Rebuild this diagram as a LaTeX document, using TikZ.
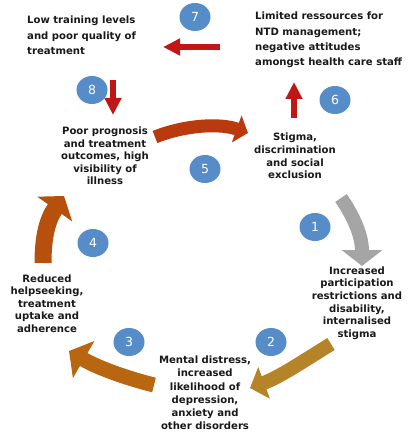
\documentclass[tikz,border=0pt]{standalone}
\usepackage{fontspec}
\setmainfont{DejaVu Sans}
\usetikzlibrary{arrows.meta,shapes.geometric}
\definecolor{txt}{RGB}{25,25,25}
\definecolor{numblue}{RGB}{86,140,200}
\definecolor{redarr}{RGB}{192,22,22}
\definecolor{arrfive}{RGB}{184,58,14}
\definecolor{arrone}{RGB}{165,165,165}
\definecolor{arrtwo}{RGB}{182,132,40}
\definecolor{arrthree}{RGB}{184,102,16}
\definecolor{arrfour}{RGB}{182,80,12}
\begin{document}
\begin{tikzpicture}[x=1pt,y=-1pt,
  lbl/.style={font=\bfseries\fontsize{10.1}{12.6}\selectfont, text=txt, inner sep=0pt, align=center},
  toplbl/.style={lbl, font=\bfseries\fontsize{10.1}{15.3}\selectfont, align=left, anchor=west},
  num/.style={ellipse, fill=numblue, minimum width=31pt, minimum height=28pt, inner sep=0pt, text=white, font=\fontsize{12.5}{14}\selectfont},
  bigarrow/.style={line cap=butt, line width=#1},
  smallarrow/.style={draw=redarr, line width=5.5pt, line cap=butt, -{Triangle[width=16pt,length=17pt]}}
]
\fill[white] (0,0) rectangle (408,438);
\useasboundingbox (0,0) rectangle (408,438);

% text nodes
\node[toplbl] (low) at (27,35.5) {Low training levels\\and poor quality of\\treatment};
\node[toplbl] (lim) at (255,40) {Limited ressources for\\NTD management;\\negative attitudes\\amongst health care staff};
\node[lbl] (poor) at (105,156) {Poor prognosis\\and treatment\\outcomes, high\\visibility of\\illness};
\node[lbl] (stig) at (295,156) {Stigma,\\discrimination\\and social\\exclusion};
\node[lbl] (incr) at (357,303) {Increased\\participation\\restrictions and\\disability,\\internalised\\stigma};
\node[lbl, font=\bfseries\fontsize{10.1}{13.2}\selectfont] (ment) at (205,393) {Mental distress,\\increased\\likelihood of\\depression,\\anxiety and\\other disorders};
\node[lbl] (red) at (47,303.5) {Reduced\\helpseeking,\\treatment\\uptake and\\adherence};

% number badges
\node[num] (n7) at (195,17) {7};
\node[num] (n8) at (92,90) {8};
\node[num] (n6) at (335,100) {6};
\node[num] (n5) at (205,169) {5};
\node[num] (n1) at (315,227) {1};
\node[num] (n4) at (93,243) {4};
\node[num] (n3) at (129,342) {3};
\node[num] (n2) at (271,342) {2};

% small red arrows
\coordinate (a7s) at (220,47);
\coordinate (a7e) at (163,47);
\coordinate (a8s) at (113,80);
\coordinate (a8e) at (113,115);
\coordinate (a6s) at (294,118);
\coordinate (a6e) at (294,82);
\draw[smallarrow] (a7s) -- (a7e);
\draw[smallarrow] (a8s) -- (a8e);
\draw[smallarrow] (a6s) -- (a6e);

% big cycle arrows
\coordinate (a5s) at (155,137);
\coordinate (a5e) at (248,133);
\draw[bigarrow=13pt, draw=arrfive, -{Triangle[width=28pt,length=12pt]}]
  (a5s) .. controls (185,125) and (220,123) .. (a5e);

\coordinate (a1s) at (341,198);
\coordinate (a1e) at (362,266);
\draw[bigarrow=14pt, draw=arrone, -{Triangle[width=40pt,length=16pt]}]
  (a1s) .. controls (352,214) and (362,234) .. (a1e);

\coordinate (a2s) at (331,344);
\coordinate (a2e) at (250,388);
\draw[bigarrow=14pt, draw=arrtwo, -{Triangle[width=33pt,length=15pt]}]
  (a2s) .. controls (305,360) and (280,377) .. (a2e);

\coordinate (a3s) at (154,385);
\coordinate (a3e) at (69,351);
\draw[bigarrow=15pt, draw=arrthree, -{Triangle[width=42pt,length=17pt]}]
  (a3s) .. controls (130,379) and (100,369) .. (a3e);

\coordinate (a4s) at (43,263);
\coordinate (a4e) at (64,196);
\draw[bigarrow=17pt, draw=arrfour, -{Triangle[width=42pt,length=16pt]}]
  (a4s) .. controls (43,238) and (47,220) .. (a4e);
\end{tikzpicture}
\end{document}
